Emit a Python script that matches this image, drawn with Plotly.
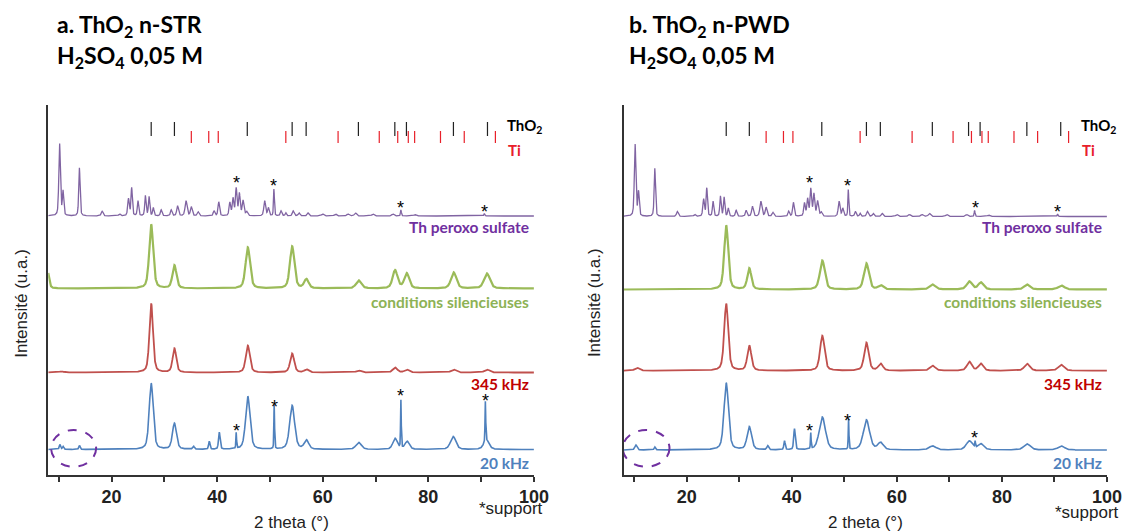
import numpy as np
import plotly.graph_objects as go

# ---------------- data ----------------
X_RANGE = [8, 100]
X_TICKS = [20, 40, 60, 80, 100]
X_MINOR = [10, 30, 50, 70, 90]

# reference stick positions (2 theta)
THO2_REF = [27.5, 31.9, 45.7, 54.2, 56.85, 66.75, 73.65, 75.85, 84.75, 91.2]
TI_REF = [35.1, 38.4, 40.2, 53.0, 62.9, 70.7, 74.2, 76.2, 77.4, 82.3, 86.8, 92.7]

# peak tables : (2theta, height, fwhm)  -- heights in arbitrary units
PEROXO = [(10.15, 72, 0.35), (10.8, 24, 0.3), (13.9, 48, 0.3), (18.2, 5, 0.4), (21.5, 2, 0.4),
          (23.2, 17, 0.35), (23.8, 28, 0.3), (25.0, 15, 0.3), (26.4, 20, 0.3), (27.1, 19, 0.3),
          (27.9, 8, 0.3), (29.4, 6, 0.35), (31.3, 6, 0.35), (32.5, 10, 0.4), (34.1, 15, 0.45),
          (35.1, 9, 0.4), (36.4, 4, 0.4), (39.4, 5, 0.35), (40.3, 14, 0.35), (42.4, 13, 0.35),
          (43.0, 17, 0.35), (43.6, 27, 0.35), (44.2, 22, 0.35), (44.9, 15, 0.4), (45.6, 4, 0.4),
          (49.0, 15, 0.4), (49.7, 8, 0.35), (50.75, 27, 0.2), (52.1, 5, 0.35), (53.0, 3, 0.3),
          (54.4, 5, 0.4), (55.5, 3, 0.4), (57.2, 3, 0.4), (60.0, 2, 0.5), (62.4, 2, 0.5),
          (64.8, 2, 0.5), (66.2, 3, 0.5), (69.5, 2, 0.5), (73.3, 2, 0.5), (74.8, 6, 0.2),
          (77.5, 1.5, 0.5), (90.6, 2.5, 0.2)]

STR_SILENT = [(7.8, 20, 0.7), (27.5, 64, 0.9), (31.9, 23, 0.9), (45.8, 41, 1.0), (54.2, 42, 1.0),
              (56.9, 9, 1.0), (66.8, 8, 1.2), (73.7, 18, 1.1), (75.9, 15, 1.1), (84.8, 16, 1.2),
              (91.1, 15, 1.3)]
STR_345 = [(10.5, 1, 1.0), (27.5, 69, 0.8), (31.9, 24, 0.8), (45.8, 27, 0.9), (54.2, 19, 0.9),
           (56.9, 3, 0.9), (66.8, 2, 1.0), (73.7, 5, 1.0), (75.9, 3, 1.0), (84.8, 3, 1.1), (91.1, 3, 1.1)]
STR_20 = [(10.2, 5, 0.3), (10.8, 3, 0.3), (13.9, 4, 0.3), (27.5, 66, 0.9), (31.9, 26, 0.9),
          (35.5, 3, 0.4), (38.5, 8, 0.3), (40.4, 17, 0.35), (43.6, 16, 0.15), (45.8, 53, 1.0),
          (50.8, 44, 0.15), (54.2, 44, 1.1), (56.9, 9, 1.0), (66.8, 7, 1.2), (73.7, 11, 1.0),
          (74.8, 48, 0.15), (76.0, 8, 1.0), (84.7, 13, 1.2), (90.8, 40, 0.15), (91.0, 9, 1.2)]

PWD_SILENT = [(27.5, 64, 0.9), (31.9, 21, 0.9), (45.8, 29, 1.1), (54.2, 26, 1.1), (56.9, 4, 1.1),
              (66.8, 5, 1.3), (73.8, 8, 1.2), (76.0, 7, 1.2), (84.8, 5, 1.3), (91.3, 4, 1.4)]
PWD_345 = [(10.5, 3, 1.0), (27.5, 67, 0.9), (31.9, 25, 0.9), (45.8, 35, 1.0), (54.2, 28, 1.0),
           (56.9, 7, 1.0), (66.8, 5, 1.2), (73.8, 9, 1.1), (76.0, 7, 1.1), (84.8, 7, 1.2), (91.3, 6, 1.3)]
PWD_20 = [(10.3, 5, 0.5), (13.9, 3, 0.3), (27.5, 67, 1.0), (31.9, 23, 1.0), (35.4, 4, 0.4),
          (38.6, 9, 0.3), (40.5, 21, 0.35), (43.6, 16, 0.15), (45.8, 33, 1.4), (50.8, 30, 0.15),
          (54.2, 30, 1.4), (56.9, 7, 1.2), (66.8, 4, 1.5), (73.8, 9, 1.4), (74.9, 6, 0.15),
          (76.0, 6, 1.3), (84.8, 6, 1.5), (91.3, 4, 1.5)]

# stacking offsets
STR_OFFSETS = {"peroxo": 259, "silent": 186.5, "345": 102.5, "20": 25.5}
PWD_OFFSETS = {"peroxo": 258.5, "silent": 185.5, "345": 104.3, "20": 25}

# asterisks (2theta, level)
STR_STARS = [(43.6, 292), (50.75, 289), (74.75, 267), (90.6, 263), (43.6, 44), (50.8, 68), (74.8, 79), (90.8, 74)]
PWD_STARS = [(43.45, 292), (50.6, 289), (75.0, 267), (90.6, 263), (43.45, 44), (50.6, 54), (74.7, 37)]

COL = {"peroxo": "#8064A2", "silent": "#9BBB59", "345": "#C0504D", "20": "#4F81BD"}
LABEL_COL = {"peroxo": "#7030A0", "silent": "#8DB255", "345": "#C00000", "20": "#4F81BD"}
LABELS = {"peroxo": "Th peroxo sulfate", "silent": "conditions silencieuses", "345": "345 kHz", "20": "20 kHz"}
WIDTHS = {"peroxo": 1.3, "silent": 2.2, "345": 1.8, "20": 1.6}

x = np.linspace(X_RANGE[0], X_RANGE[1], 4601)


def profile(peaks):
    y = np.zeros_like(x)
    for p, h, w in peaks:
        g = np.exp(-4 * np.log(2) * ((x - p) / w) ** 2)
        l = 1 / (1 + 4 * ((x - p) / w) ** 2)
        y += h * (0.55 * g + 0.45 * l)
    return y


fig = go.Figure()

panels = [
    ("x", "y", {"peroxo": PEROXO, "silent": STR_SILENT, "345": STR_345, "20": STR_20}, STR_OFFSETS, STR_STARS),
    ("x2", "y2", {"peroxo": PEROXO, "silent": PWD_SILENT, "345": PWD_345, "20": PWD_20}, PWD_OFFSETS, PWD_STARS),
]

annotations = []
label_y = {"peroxo": 248, "silent": 173, "345": 91, "20": 12}

for xa, ya, series, offs, stars in panels:
    for key in ["20", "345", "silent", "peroxo"]:
        fig.add_trace(go.Scatter(x=x, y=profile(series[key]) + offs[key], mode="lines",
                                 line=dict(color=COL[key], width=WIDTHS[key]),
                                 xaxis=xa, yaxis=ya, showlegend=False, hoverinfo="skip"))
        annotations.append(dict(x=99.5, y=label_y[key], xref=xa, yref=ya, text=LABELS[key],
                                showarrow=False, xanchor="right", yanchor="middle",
                                font=dict(family="Lato", size=15.5, color=LABEL_COL[key], weight="bold")))
    # reference sticks
    sx, sy = [], []
    for p in THO2_REF:
        sx += [p, p, None]
        sy += [339, 353, None]
    fig.add_trace(go.Scatter(x=sx, y=sy, mode="lines", line=dict(color="#222222", width=1.2),
                             xaxis=xa, yaxis=ya, showlegend=False, hoverinfo="skip"))
    tx, ty = [], []
    for p in TI_REF:
        tx += [p, p, None]
        ty += [332, 344, None]
    fig.add_trace(go.Scatter(x=tx, y=ty, mode="lines", line=dict(color="#E8202A", width=1.2),
                             xaxis=xa, yaxis=ya, showlegend=False, hoverinfo="skip"))
    annotations.append(dict(x=94.6, y=349, xref=xa, yref=ya, text="ThO<sub>2</sub>", showarrow=False,
                            xanchor="left", yanchor="middle",
                            font=dict(family="Lato", size=15, color="black", weight="bold")))
    annotations.append(dict(x=94.8, y=325, xref=xa, yref=ya, text="Ti", showarrow=False,
                            xanchor="left", yanchor="middle",
                            font=dict(family="Lato", size=15, color="#E8202A", weight="bold")))
    for sxp, syp in stars:
        annotations.append(dict(x=sxp, y=syp, xref=xa, yref=ya, text="*", showarrow=False,
                                xanchor="center", yanchor="middle",
                                font=dict(family="Liberation Sans", size=18, color="black")))

# the page body adds an 8px margin; figure coordinates are shifted accordingly
OFF = 8
W = 1139 - OFF
H = 531 - OFF
PLOT_TOP, PLOT_BOTTOM = 105, 475  # screen rows of the plot area

dom_a = [(48.8 - OFF) / W, (541 - OFF) / W]
dom_b = [(632.1 - OFF) / W, (1121.7 - OFF) / W]

axis_common = dict(range=X_RANGE, tickvals=X_TICKS, ticks="outside", ticklen=5, tickwidth=1.5,
                   tickcolor="#333333", showline=True, linecolor="#333333", linewidth=1.5,
                   showgrid=False, zeroline=False,
                   tickfont=dict(family="Liberation Sans", size=18, color="#222222", weight="bold"),
                   minor=dict(tickvals=X_MINOR, ticks="outside", ticklen=5, tickwidth=1.5, tickcolor="#333333"))
yaxis_common = dict(range=[0, 370], showline=True, linecolor="#333333", linewidth=1.5, ticks="",
                    showticklabels=False, showgrid=False, zeroline=False, domain=[0, 1])

fig.update_layout(
    width=W, height=H,
    margin=dict(l=0, r=0, t=PLOT_TOP - OFF, b=H - (PLOT_BOTTOM - OFF)),
    paper_bgcolor="white", plot_bgcolor="white",
    xaxis=dict(domain=dom_a, anchor="y", **axis_common),
    xaxis2=dict(domain=dom_b, anchor="y2", **axis_common),
    yaxis=dict(anchor="x", **yaxis_common),
    yaxis2=dict(anchor="x2", **yaxis_common),
)

# dashed ellipses
fig.add_shape(type="circle", xref="x", yref="y", x0=8.54, x1=17.07, y0=8.3, y1=45,
              line=dict(color="#7030A0", width=2, dash="dash"))
fig.add_shape(type="circle", xref="x2", yref="y2", x0=7.8, x1=16.7, y0=8.3, y1=45,
              line=dict(color="#7030A0", width=2, dash="dash"))


def px_x(p):
    return (p - OFF) / W


def px_y(p):
    return (PLOT_BOTTOM - p) / (PLOT_BOTTOM - PLOT_TOP)


title_font = dict(family="Lato", size=23, color="black", weight="bold")
annotations += [
    dict(x=px_x(56), y=px_y(25), xref="paper", yref="paper", text="a. ThO<sub>2</sub> n-STR",
         showarrow=False, xanchor="left", yanchor="middle", font=title_font),
    dict(x=px_x(56), y=px_y(56), xref="paper", yref="paper", text="H<sub>2</sub>SO<sub>4</sub> 0,05 M",
         showarrow=False, xanchor="left", yanchor="middle", font=title_font),
    dict(x=px_x(635), y=px_y(25), xref="paper", yref="paper", text="b. ThO<sub>2</sub> n-PWD",
         showarrow=False, xanchor="left", yanchor="middle", font=title_font),
    dict(x=px_x(635), y=px_y(56), xref="paper", yref="paper", text="H<sub>2</sub>SO<sub>4</sub> 0,05 M",
         showarrow=False, xanchor="left", yanchor="middle", font=title_font),
]

lab_font = dict(family="Liberation Sans", size=17, color="#222222")
annotations += [
    dict(x=px_x(295), y=px_y(522), xref="paper", yref="paper", text="2 theta (°)", showarrow=False,
         xanchor="center", yanchor="middle", font=lab_font),
    dict(x=px_x(877), y=px_y(522), xref="paper", yref="paper", text="2 theta (°)", showarrow=False,
         xanchor="center", yanchor="middle", font=lab_font),
    dict(x=px_x(21), y=px_y(303), xref="paper", yref="paper", text="Intensité (u.a.)", showarrow=False,
         textangle=-90, xanchor="center", yanchor="middle", font=lab_font),
    dict(x=px_x(602), y=px_y(303), xref="paper", yref="paper", text="Intensité (u.a.)", showarrow=False,
         textangle=-90, xanchor="center", yanchor="middle", font=lab_font),
    dict(x=px_x(518), y=px_y(508), xref="paper", yref="paper", text="*support", showarrow=False,
         xanchor="center", yanchor="middle", font=lab_font),
    dict(x=px_x(1102), y=px_y(512), xref="paper", yref="paper", text="*support", showarrow=False,
         xanchor="center", yanchor="middle", font=lab_font),
]

fig.update_layout(annotations=annotations)
fig.write_html("out.html")
